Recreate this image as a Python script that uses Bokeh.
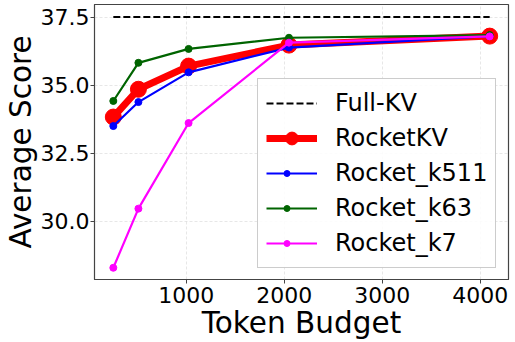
from bokeh.plotting import figure
from bokeh.models import Legend, LegendItem, Range1d, FixedTicker, NumeralTickFormatter
from bokeh.embed import file_html
from bokeh.resources import INLINE

budgets = [256, 512, 1024, 2048, 4096]
full_kv = [37.5, 37.5, 37.5, 37.5, 37.5]
rocketkv = [33.83, 34.85, 35.70, 36.47, 36.80]
rocket_k511 = [33.50, 34.38, 35.47, 36.38, 36.80]
rocket_k63 = [34.42, 35.82, 36.33, 36.74, 36.84]
rocket_k7 = [28.30, 30.47, 33.61, 36.56, 36.79]

x_ticks = [1000, 2000, 3000, 4000]
y_ticks = [30.0, 32.5, 35.0, 37.5]

FONT = "DejaVu Sans"
GREEN = "#006400"

p = figure(width=515, height=342, output_backend="svg", toolbar_location=None,
           x_range=Range1d(64, 4288), y_range=Range1d(27.87, 37.96),
           min_border_left=86, min_border_right=7, min_border_top=4, min_border_bottom=60)

p.outline_line_color = "#444444"
p.outline_line_width = 1.2

for ax in (p.xaxis[0], p.yaxis[0]):
    ax.axis_line_color = "#444444"
    ax.major_tick_line_color = "#444444"
    ax.major_tick_out = 4
    ax.major_tick_in = 0
    ax.minor_tick_line_color = None
    ax.major_label_text_font = FONT
    ax.major_label_text_font_size = "22px"
    ax.major_label_text_color = "black"
    ax.axis_label_text_font = FONT
    ax.axis_label_text_font_size = "29.5px"
    ax.axis_label_text_font_style = "normal"
    ax.axis_label_text_color = "black"
    ax.major_label_standoff = 1
    ax.axis_label_standoff = 0

p.xaxis.major_label_standoff = 3
p.xaxis.axis_label = "Token Budget"
p.yaxis.axis_label = "Average Score"
p.xaxis.ticker = FixedTicker(ticks=x_ticks)
p.yaxis.ticker = FixedTicker(ticks=y_ticks)
p.yaxis.formatter = NumeralTickFormatter(format="0.0")

p.grid.grid_line_color = "#cccccc"
p.grid.grid_line_dash = "3 2"
p.grid.grid_line_alpha = 0.6
p.grid.grid_line_width = 0.8

r_full = p.line(budgets, full_kv, line_color="black", line_width=2, line_dash="7 3")

r_rk_l = p.line(budgets, rocketkv, line_color="red", line_width=7)
r_rk_m = p.scatter(budgets, rocketkv, size=16, color="red")

r_511_l = p.line(budgets, rocket_k511, line_color="blue", line_width=2.2)
r_511_m = p.scatter(budgets, rocket_k511, size=7, color="blue")

r_63_l = p.line(budgets, rocket_k63, line_color=GREEN, line_width=2.2)
r_63_m = p.scatter(budgets, rocket_k63, size=7, color=GREEN)

r_7_l = p.line(budgets, rocket_k7, line_color="magenta", line_width=2.2)
r_7_m = p.scatter(budgets, rocket_k7, size=7, color="magenta")

# invisible renderer used only to keep the marker-overlay legend rows aligned
r_blank = p.scatter(budgets, full_kv, size=1, fill_alpha=0, line_alpha=0)

labels = ["Full-KV", "RocketKV", "Rocket_k511", "Rocket_k63", "Rocket_k7"]

LEG_X, LEG_Y = 163, 11
GW = 51


def style_legend(lg, glyph_w):
    lg.label_text_font = FONT
    lg.label_text_font_size = "24px"
    lg.label_text_color = "black"
    lg.glyph_width = glyph_w
    lg.glyph_height = 32
    lg.label_height = 30
    lg.spacing = 3
    lg.padding = 8
    lg.margin = 0
    lg.label_standoff = 18


legend = Legend(items=[
    LegendItem(label=labels[0], renderers=[r_full]),
    LegendItem(label=labels[1], renderers=[r_rk_l, r_rk_m]),
    LegendItem(label=labels[2], renderers=[r_511_l]),
    LegendItem(label=labels[3], renderers=[r_63_l]),
    LegendItem(label=labels[4], renderers=[r_7_l]),
], location=(LEG_X, LEG_Y))
style_legend(legend, GW)
legend.border_line_color = "#999999"
legend.border_line_width = 1
legend.background_fill_alpha = 0.85
p.add_layout(legend)

# overlay legend drawing the small markers of the thin series at the line centres
SW = 15
marks = Legend(items=[
    LegendItem(label=" ", renderers=[r_blank]),
    LegendItem(label=" ", renderers=[r_blank]),
    LegendItem(label=" ", renderers=[r_511_m]),
    LegendItem(label=" ", renderers=[r_63_m]),
    LegendItem(label=" ", renderers=[r_7_m]),
], location=(LEG_X + (GW - SW) // 2 + 4, LEG_Y + 9))
style_legend(marks, SW)
marks.label_text_alpha = 0
marks.border_line_color = None
marks.background_fill_alpha = 0
p.add_layout(marks)

open("out.html", "w").write(file_html(p, INLINE))
